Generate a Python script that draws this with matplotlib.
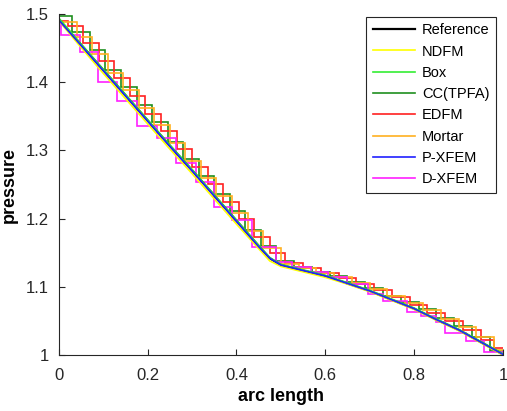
import matplotlib
matplotlib.use('Agg')
from matplotlib import pyplot as plt

# reference solution along the line
ref_x = [0, 0.05, 0.1, 0.15, 0.2, 0.25, 0.3, 0.35, 0.4, 0.45, 0.475, 0.5,
         0.55, 0.6, 0.65, 0.7, 0.75, 0.8, 0.85, 0.9, 0.95, 1.0]
ref_p = [1.492, 1.455, 1.418, 1.381, 1.344, 1.307, 1.271, 1.234, 1.197, 1.160, 1.142, 1.132,
         1.124, 1.116, 1.105, 1.094, 1.081, 1.068, 1.052, 1.037, 1.019, 1.001]

# continuous methods (same sample points)
ndfm_p = [1.490, 1.451, 1.413, 1.376, 1.339, 1.302, 1.266, 1.229, 1.192, 1.156, 1.138, 1.130,
          1.122, 1.114, 1.104, 1.093, 1.080, 1.067, 1.051, 1.036, 1.018, 1.000]
box_p = [1.494, 1.456, 1.419, 1.382, 1.345, 1.308, 1.272, 1.235, 1.198, 1.161, 1.143, 1.133,
         1.125, 1.117, 1.106, 1.095, 1.082, 1.069, 1.053, 1.038, 1.020, 1.002]
pxfem_p = [1.491, 1.454, 1.417, 1.380, 1.343, 1.306, 1.270, 1.233, 1.196, 1.159, 1.142, 1.132,
           1.124, 1.116, 1.105, 1.094, 1.081, 1.068, 1.052, 1.037, 1.019, 1.001]

# cell-wise methods: cell edges and cell values
cc_edges = [0, 0.03, 0.07, 0.105, 0.14, 0.175, 0.21, 0.245, 0.28, 0.315, 0.35, 0.385, 0.42,
            0.455, 0.49, 0.53, 0.57, 0.61, 0.65, 0.69, 0.73, 0.77, 0.81, 0.85, 0.89, 0.93,
            0.97, 1.0]
cc_p = [1.497, 1.474, 1.447, 1.418, 1.393, 1.366, 1.341, 1.313, 1.288, 1.263, 1.236, 1.211,
        1.184, 1.160, 1.138, 1.129, 1.122, 1.116, 1.107, 1.098, 1.087, 1.078, 1.067, 1.054,
        1.042, 1.027, 1.006]

edfm_edges = [0, 0.02, 0.055, 0.09, 0.125, 0.16, 0.195, 0.23, 0.265, 0.3, 0.335, 0.37, 0.405,
              0.44, 0.475, 0.51, 0.55, 0.59, 0.63, 0.67, 0.71, 0.75, 0.79, 0.83, 0.87, 0.91,
              0.95, 0.98, 1.0]
edfm_p = [1.490, 1.483, 1.457, 1.431, 1.406, 1.380, 1.354, 1.328, 1.302, 1.276, 1.251, 1.225,
          1.199, 1.173, 1.150, 1.135, 1.127, 1.121, 1.113, 1.104, 1.095, 1.085, 1.074, 1.062,
          1.050, 1.037, 1.022, 1.010]

mortar_edges = [0, 0.04, 0.075, 0.11, 0.145, 0.18, 0.215, 0.25, 0.285, 0.32, 0.355, 0.39,
                0.425, 0.46, 0.5, 0.54, 0.58, 0.62, 0.66, 0.7, 0.74, 0.78, 0.82, 0.86, 0.9,
                0.94, 0.98, 1.0]
mortar_p = [1.488, 1.466, 1.441, 1.414, 1.389, 1.362, 1.337, 1.311, 1.285, 1.260, 1.233, 1.208,
            1.182, 1.157, 1.134, 1.128, 1.121, 1.115, 1.106, 1.097, 1.087, 1.077, 1.066, 1.053,
            1.041, 1.026, 1.008]

dxfem_edges = [0, 0.005, 0.047, 0.088, 0.132, 0.176, 0.22, 0.264, 0.309, 0.35, 0.39, 0.435,
               0.489, 0.525, 0.567, 0.607, 0.648, 0.697, 0.73, 0.783, 0.815, 0.85, 0.87, 0.917,
               0.958, 1.0]
dxfem_p = [1.487, 1.469, 1.444, 1.400, 1.372, 1.336, 1.318, 1.281, 1.254, 1.217, 1.198, 1.158,
           1.137, 1.129, 1.122, 1.114, 1.104, 1.089, 1.080, 1.063, 1.058, 1.048, 1.032, 1.020,
           1.004]

x_ticks = [0, 0.2, 0.4, 0.6, 0.8, 1.0]
x_labels = ['0', '0.2', '0.4', '0.6', '0.8', '1']
y_ticks = [1.0, 1.1, 1.2, 1.3, 1.4, 1.5]
y_labels = ['1', '1.1', '1.2', '1.3', '1.4', '1.5']

plt.rcParams['font.family'] = ['Liberation Sans', 'DejaVu Sans']

fig = plt.figure(figsize=(5.07, 4.11), dpi=100)
ax = fig.add_axes([0.116, 0.136, 0.876, 0.830])

lw = 1.2
ax.plot(ref_x, ref_p, color='black', lw=1.6, label='Reference')
ax.plot(ref_x, ndfm_p, color='#ffff00', lw=lw, label='NDFM')
ax.plot(ref_x, box_p, color='#33ee33', lw=lw, label='Box')
ax.stairs(cc_p, cc_edges, baseline=None, color='#1f8f1f', lw=lw, label='CC(TPFA)')
ax.stairs(edfm_p, edfm_edges, baseline=None, color='#ff2020', lw=lw, label='EDFM')
ax.stairs(mortar_p, mortar_edges, baseline=None, color='#ffb020', lw=lw, label='Mortar')
ax.plot(ref_x, pxfem_p, color='#2020ff', lw=lw, label='P-XFEM')
ax.stairs(dxfem_p, dxfem_edges, baseline=None, color='#ff20ff', lw=lw, label='D-XFEM')

ax.set_xlim(0, 1)
ax.set_ylim(1, 1.5)
ax.set_xticks(x_ticks)
ax.set_xticklabels(x_labels)
ax.set_yticks(y_ticks)
ax.set_yticklabels(y_labels)
ax.tick_params(direction='in', length=4, labelsize=12, colors='#262626')
ax.tick_params(axis='x', pad=9)
ax.tick_params(axis='y', pad=7)
for side in ['top', 'right']:
    ax.spines[side].set_visible(False)
for side in ['left', 'bottom']:
    ax.spines[side].set_color('#262626')

ax.set_xlabel('arc length', fontsize=13, fontweight='bold', labelpad=4)
ax.set_ylabel('pressure', fontsize=13, fontweight='bold', labelpad=6)

leg = ax.legend(loc='upper right', bbox_to_anchor=(0.985, 0.992), borderaxespad=0,
                fontsize=10.5, handlelength=2.9, fancybox=False, framealpha=1,
                borderpad=0.45, labelspacing=0.5, handletextpad=0.5)
leg.get_frame().set_edgecolor('#262626')
leg.get_frame().set_linewidth(0.8)

fig.savefig('out.png', dpi=100)
